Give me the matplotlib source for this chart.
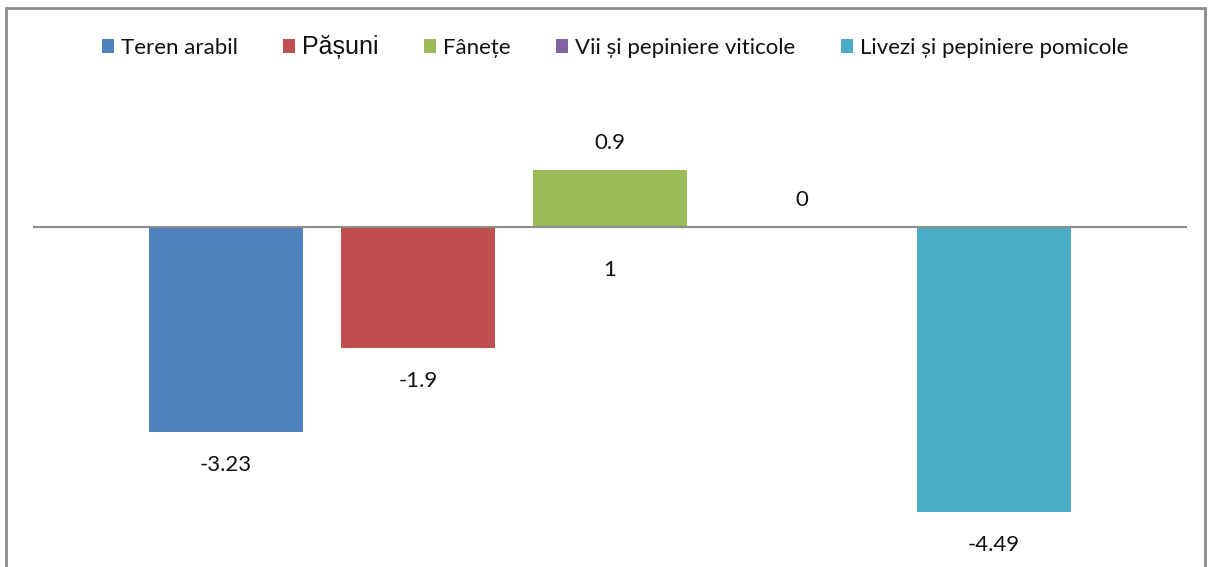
import matplotlib.pyplot as plt
from matplotlib.patches import Rectangle

# data
series = ["Teren arabil", "Pășuni", "Fânețe", "Vii și pepiniere viticole",
          "Livezi și pepiniere pomicole"]
values = [-3.23, -1.9, 0.9, 0, -4.49]
category = ["1"]
colors = ["#4F81BD", "#C0504D", "#9BBB59", "#8064A2", "#4BACC6"]

W, H, DPI = 1208, 567, 100
plt.rcParams["font.family"] = ["Lato", "DejaVu Sans"]

fig = plt.figure(figsize=(W / DPI, H / DPI), dpi=DPI)
ax = fig.add_axes([34 / W, 0, 1152 / W, (567 - 80) / H])

center = 3.0
width = 0.797
for i, (name, val, col) in enumerate(zip(series, values, colors)):
    x = center + (i - 2)
    ax.bar(x, val, width=width, color=col, label=name)
    off = 19.5 if val >= 0 else -24
    ax.annotate(f"{val:g}", (x, val), xytext=(0, off), textcoords="offset points",
                ha="center", va="center", fontsize=16, color="#111111")

ax.set_xlim(0, 6)
ax.set_ylim(-5.354, 2.315)

# axis line through zero with the category label beneath
for s in ["top", "left", "right"]:
    ax.spines[s].set_visible(False)
ax.spines["bottom"].set_position(("data", 0))
ax.spines["bottom"].set_color("#8c8c8c")
ax.spines["bottom"].set_linewidth(1.5)
ax.set_xticks([center])
ax.set_xticklabels(category, fontsize=16, color="#111111")
ax.tick_params(axis="x", length=0, pad=24)
ax.set_yticks([])
ax.patch.set_visible(False)

leg = fig.legend(loc="center", bbox_to_anchor=(615 / W, 1 - 47 / H), ncol=5,
                 frameon=False, fontsize=16, handlelength=0.55, handleheight=0.55,
                 handletextpad=0.3, columnspacing=2.05, borderaxespad=0)
leg.get_texts()[1].set_fontfamily("Liberation Sans")
leg.get_texts()[1].set_fontsize(18)
for t in leg.get_texts():
    t.set_color("#111111")

# chart frame
fig.add_artist(Rectangle((6 / W, -0.1), 1199 / W, 1.1 - 8 / H,
                         transform=fig.transFigure, fill=False,
                         edgecolor="#8c8c8c", linewidth=2))

fig.savefig("out.png", dpi=DPI)
